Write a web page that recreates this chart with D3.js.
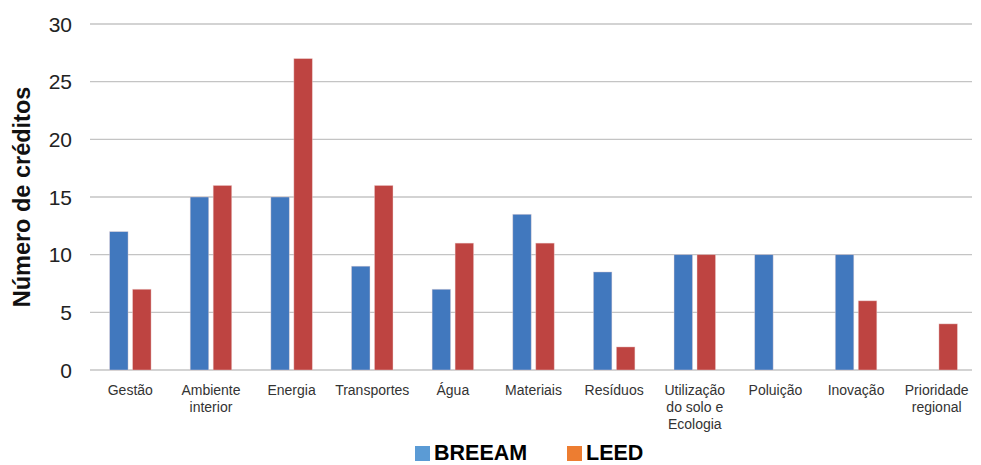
<!DOCTYPE html>
<html>
<head>
<meta charset="utf-8">
<script src="https://cdn.jsdelivr.net/npm/d3@7"></script>
<style>
  body { margin: 0; background: #fff; }
  svg { display: block; font-family: "Liberation Sans", Arial, sans-serif; }
</style>
</head>
<body>
<script>
// Dados do gráfico
var categories = [
  ["Gestão"],
  ["Ambiente", "interior"],
  ["Energia"],
  ["Transportes"],
  ["Água"],
  ["Materiais"],
  ["Resíduos"],
  ["Utilização", "do solo e", "Ecologia"],
  ["Poluição"],
  ["Inovação"],
  ["Prioridade", "regional"]
];
var breeam = [12, 15, 15, 9, 7, 13.5, 8.5, 10, 10, 10, 0];
var leed = [7, 16, 27, 16, 11, 11, 2, 10, 0, 6, 4];
var yTicks = [0, 5, 10, 15, 20, 25, 30];
var seriesNames = ["BREEAM", "LEED"];

var width = 981, height = 465;
var margin = {left: 90, right: 4, top: 24, bottom: 95};

var svg = d3.select("body").append("svg")
  .attr("width", width)
  .attr("height", height);

var x = d3.scaleBand()
  .domain(d3.range(categories.length))
  .range([margin.left, width - margin.right]);

var y = d3.scaleLinear()
  .domain([0, 30])
  .range([height - margin.bottom, margin.top]);

// Linhas de grade
svg.append("g")
  .selectAll("line")
  .data(yTicks)
  .join("line")
  .attr("x1", 90)
  .attr("x2", 972)
  .attr("y1", d => y(d))
  .attr("y2", d => y(d))
  .attr("stroke", "#c4c4c4")
  .attr("stroke-width", 1.3);

// Rótulos do eixo Y
svg.append("g")
  .selectAll("text")
  .data(yTicks)
  .join("text")
  .attr("x", 72)
  .attr("y", d => y(d))
  .attr("dy", "0.36em")
  .attr("text-anchor", "end")
  .attr("font-size", 21)
  .attr("fill", "#222")
  .text(d => d);

// Título do eixo Y
svg.append("text")
  .attr("transform", "translate(30," + ((y(0) + y(30)) / 2) + ") rotate(-90)")
  .attr("text-anchor", "middle")
  .attr("font-size", 23.5)
  .attr("font-weight", "bold")
  .attr("fill", "#111")
  .text("Número de créditos");

// Barras
var barW = 18.5, gap = 4.5;
var series = [
  {name: "BREEAM", values: breeam, color: "#4178be", off: -gap / 2 - barW},
  {name: "LEED", values: leed, color: "#be4441", off: gap / 2}
];

series.forEach(function(s) {
  svg.append("g")
    .selectAll("rect")
    .data(s.values.map((v, i) => ({i: i, v: v})).filter(d => d.v > 0))
    .join("rect")
    .attr("x", d => x(d.i) + x.bandwidth() / 2 + s.off)
    .attr("y", d => y(d.v))
    .attr("width", barW)
    .attr("height", d => y(0) - y(d.v))
    .attr("fill", s.color)
    .attr("stroke", "#f0d8d8")
    .attr("stroke-opacity", 0.5)
    .attr("stroke-width", 0.8);
});

// Rótulos das categorias
var catLabels = svg.append("g")
  .selectAll("text")
  .data(categories)
  .join("text")
  .attr("x", (d, i) => x(i) + x.bandwidth() / 2)
  .attr("y", 395)
  .attr("text-anchor", "middle")
  .attr("font-size", 14)
  .attr("fill", "#333");

catLabels.selectAll("tspan")
  .data(d => d)
  .join("tspan")
  .attr("x", function() { return this.parentNode.getAttribute("x"); })
  .attr("dy", (d, i) => i == 0 ? 0 : 17)
  .text(d => d);

// Legenda
var legendColors = ["#5b9bd5", "#ed7d31"];
var legendX = [415, 567];
var legend = svg.append("g")
  .selectAll("g")
  .data(seriesNames)
  .join("g")
  .attr("transform", (d, i) => "translate(" + legendX[i] + ",0)");

legend.append("rect")
  .attr("x", 0)
  .attr("y", 446)
  .attr("width", 15)
  .attr("height", 15)
  .attr("fill", (d, i) => legendColors[i]);

legend.append("text")
  .attr("x", 19)
  .attr("y", 460)
  .attr("font-size", 21.5)
  .attr("font-weight", "bold")
  .attr("fill", "#000")
  .text(d => d);
</script>
</body>
</html>
